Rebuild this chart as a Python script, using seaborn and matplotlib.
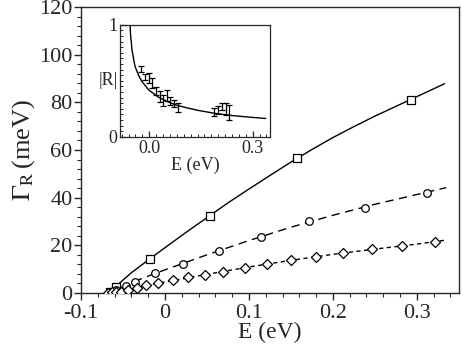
import numpy as np
import pandas as pd
import matplotlib
matplotlib.use("Agg")
import matplotlib.pyplot as plt
import seaborn as sns
from matplotlib.ticker import MultipleLocator, FixedLocator

# ---- main panel data (E in eV, Gamma_R in meV) ----
sq_E = [-0.066, -0.0587, -0.0179, 0.0536, 0.1568, 0.2925]
sq_G = [0.2, 2.6, 14.1, 32.4, 56.6, 80.9]

ci_E = [-0.065, -0.058, -0.047, -0.0357, -0.012, 0.022, 0.0645, 0.114, 0.172, 0.238, 0.3115]
ci_G = [0.2, 1.2, 3.0, 4.8, 8.2, 12.3, 17.7, 23.6, 30.0, 35.8, 42.1]

di_E = [-0.068, -0.063, -0.058, -0.0524, -0.0437, -0.0337, -0.0222, -0.008, 0.009,
        0.0277, 0.0476, 0.069, 0.095, 0.121, 0.1496, 0.180, 0.2123, 0.2468, 0.2825, 0.3214]
di_G = [0.0, 0.2, 0.3, 0.5, 1.4, 2.0, 3.2, 4.0, 5.4, 6.7, 7.5, 9.0, 10.5, 12.1, 13.7,
        15.2, 16.7, 18.3, 19.7, 21.5]

# fitted curves
solid_E = [-0.0675, -0.06, -0.04, -0.02, 0.0, 0.025, 0.05, 0.075, 0.1, 0.125, 0.15,
           0.175, 0.2, 0.225, 0.25, 0.275, 0.3, 0.333]
solid_G = [0.0, 2.3, 8.5, 13.8, 19.0, 25.4, 31.6, 37.8, 43.6, 49.3, 54.9,
           60.2, 65.2, 69.8, 74.2, 78.3, 82.4, 87.8]

dash_E = [-0.067, -0.06, -0.04, -0.02, 0.0, 0.05, 0.1, 0.15, 0.2, 0.25, 0.3, 0.335]
dash_G = [0.0, 1.0, 4.3, 7.1, 9.7, 16.0, 22.0, 27.6, 32.6, 37.2, 41.3, 44.2]

dot_E = [-0.068, -0.06, -0.05, -0.04, -0.02, 0.0, 0.05, 0.1, 0.15, 0.2, 0.25, 0.3, 0.335]
dot_G = [0.0, 0.4, 0.8, 1.6, 3.3, 4.6, 7.8, 10.9, 13.7, 16.2, 18.4, 20.5, 22.2]

# ---- inset data ----
ins_E = [-0.023, -0.012, -0.002, 0.009, 0.019, 0.030, 0.040, 0.052, 0.061, 0.071, 0.083,
         0.189, 0.200, 0.210, 0.222, 0.231]
ins_R = [0.607, 0.535, 0.525, 0.48, 0.41, 0.36, 0.326, 0.37, 0.32, 0.30, 0.26,
         0.22, 0.24, 0.27, 0.25, 0.22]
ins_err = [0.03, 0.027, 0.045, 0.045, 0.037, 0.045, 0.049, 0.052, 0.037, 0.03, 0.042,
           0.038, 0.033, 0.033, 0.055, 0.067]

curve_E = [-0.0558, -0.0545, -0.050, -0.045, -0.041, -0.031, -0.021, -0.002, 0.027,
           0.05, 0.076, 0.11, 0.144, 0.19, 0.241, 0.29, 0.338]
curve_R = [1.05, 0.925, 0.777, 0.69, 0.628, 0.55, 0.494, 0.42, 0.354,
           0.318, 0.286, 0.258, 0.235, 0.21, 0.19, 0.176, 0.164]

sns.set_style("ticks")
plt.rcParams["font.family"] = ["Liberation Serif", "DejaVu Serif"]
plt.rcParams["mathtext.fontset"] = "stix"

fig = plt.figure(figsize=(4.63, 3.5), dpi=100)
ax = fig.add_axes([0.175, 0.163, 0.816, 0.817])

lw = 1.0
sns.lineplot(x=solid_E, y=solid_G, ax=ax, color="black", lw=lw, sort=False)
sns.lineplot(x=dash_E, y=dash_G, ax=ax, color="black", lw=lw, sort=False)
ax.lines[-1].set_dashes((6, 4))
sns.lineplot(x=dot_E, y=dot_G, ax=ax, color="black", lw=lw, sort=False)
ax.lines[-1].set_dashes((3, 2.5))

mk = dict(facecolor="white", edgecolor="black", linewidth=0.9, zorder=5, legend=False)
sns.scatterplot(x=sq_E, y=sq_G, ax=ax, marker="s", s=28, **mk)
sns.scatterplot(x=ci_E, y=ci_G, ax=ax, marker="o", s=30, **mk)
sns.scatterplot(x=di_E, y=di_G, ax=ax, marker="D", s=26, **mk)

ax.set_xlim(-0.1, 0.35)
ax.set_ylim(0, 120)
ax.xaxis.set_major_locator(FixedLocator([-0.1, 0.0, 0.1, 0.2, 0.3]))
ax.set_xticklabels(["-0.1", "0", "0.1", "0.2", "0.3"])
ax.xaxis.set_minor_locator(MultipleLocator(0.02))
ax.yaxis.set_major_locator(MultipleLocator(20))
ax.yaxis.set_minor_locator(MultipleLocator(4))
ax.tick_params(which="major", direction="out", length=5, width=1.0, labelsize=16,
               top=False, right=False)
ax.tick_params(axis="x", which="major", pad=3)
ax.tick_params(axis="y", which="major", pad=1)
ax.tick_params(which="minor", direction="out", length=3, width=0.8, top=False, right=False)
for sp in ax.spines.values():
    sp.set_linewidth(1.0)
    sp.set_visible(True)
ax.set_xlabel("E (eV)", fontsize=17, labelpad=-1)
ax.set_ylabel(r"$\Gamma_{\rm R}\,$(meV)", fontsize=19, labelpad=2)

# ---- inset ----
ins = fig.add_axes([0.259, 0.609, 0.324, 0.32])
sns.lineplot(x=curve_E, y=curve_R, ax=ins, color="black", lw=1.0, sort=False)
ins.errorbar(ins_E, ins_R, yerr=ins_err, fmt="none", ecolor="black",
             elinewidth=0.9, capsize=2, capthick=0.9)
ins.set_xlim(-0.085, 0.35)
ins.set_ylim(0, 1)
ins.xaxis.set_major_locator(FixedLocator([0.0, 0.3]))
ins.set_xticklabels(["0.0", "0.3"])
ins.xaxis.set_minor_locator(MultipleLocator(0.02))
ins.yaxis.set_major_locator(FixedLocator([0.0, 1.0]))
ins.set_yticklabels(["0", "1"])
ins.yaxis.set_minor_locator(MultipleLocator(0.05))
ins.tick_params(which="major", direction="in", length=4, width=0.9, labelsize=13,
                pad=2, top=False, right=False)
ins.tick_params(which="minor", direction="in", length=2.5, width=0.7, top=False, right=False)
for sp in ins.spines.values():
    sp.set_linewidth(0.9)
    sp.set_visible(True)
ins.set_xlabel("E (eV)", fontsize=13, labelpad=0)
ins.set_ylabel("|R|", fontsize=13, labelpad=0, rotation=0, va="center")

fig.savefig("out.png", dpi=100)
